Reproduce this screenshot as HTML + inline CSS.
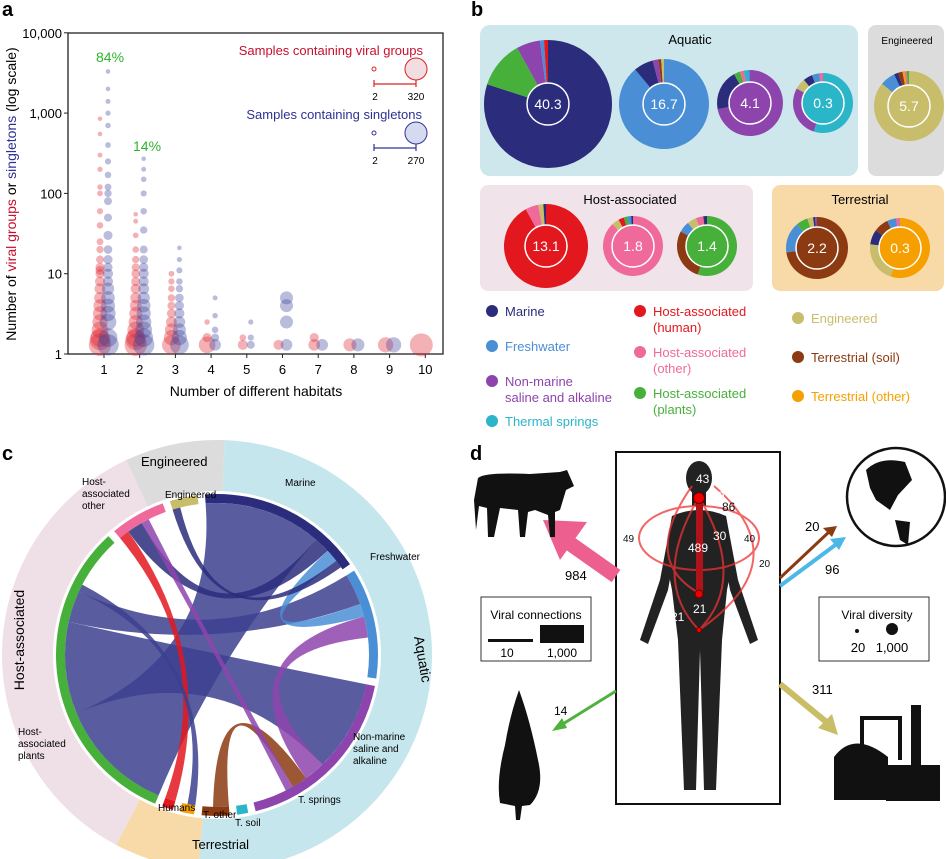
<!DOCTYPE html>
<html><head><meta charset="utf-8"><style>
html,body{margin:0;padding:0;background:#fff;}
svg{display:block;font-family:"Liberation Sans",Arial,sans-serif;}
</style></head><body>
<svg id="fig" width="946" height="859" viewBox="0 0 946 859">
<!-- Panel a -->
<g id="panelA">
<text x="2" y="16" font-size="20" font-weight="bold">a</text>
<rect x="68" y="33" width="375" height="321" fill="none" stroke="#222" stroke-width="1.3"/>
<g id="aTicks"></g>
<g id="aPoints"></g>
<text x="256" y="396" font-size="14" text-anchor="middle">Number of different habitats</text>
<text transform="translate(16,194) rotate(-90)" font-size="14" text-anchor="middle">Number of <tspan fill="#c8102e">viral groups</tspan> or <tspan fill="#2e3192">singletons</tspan> (log scale)</text>
<text x="96" y="62" font-size="14" fill="#2db52d">84%</text>
<text x="133" y="151" font-size="14" fill="#2db52d">14%</text>
<g>
<text x="423" y="55" font-size="13" fill="#c8102e" text-anchor="end">Samples containing viral groups</text>
<circle cx="374" cy="69" r="2" fill="none" stroke="#d22" stroke-width="1"/>
<circle cx="416" cy="69" r="11" fill="#f2dde3" stroke="#d22" stroke-width="1"/>
<path d="M374 80v7M374 84H416M416 80v7" stroke="#d22" stroke-width="1.2" fill="none"/>
<text x="375" y="100" font-size="10" text-anchor="middle">2</text><text x="416" y="100" font-size="10" text-anchor="middle">320</text>
<text x="422" y="119" font-size="13" fill="#2e3192" text-anchor="end">Samples containing singletons</text>
<circle cx="374" cy="133" r="2" fill="none" stroke="#339" stroke-width="1"/>
<circle cx="416" cy="133" r="11" fill="#d6daee" stroke="#339" stroke-width="1"/>
<path d="M374 144v7M374 148H416M416 144v7" stroke="#339" stroke-width="1.2" fill="none"/>
<text x="375" y="164" font-size="10" text-anchor="middle">2</text><text x="416" y="164" font-size="10" text-anchor="middle">270</text>
</g>
</g>

<!-- Panel b -->
<g id="panelB">
<text x="471" y="16" font-size="20" font-weight="bold">b</text>
<rect x="480" y="25" width="378" height="151" rx="10" fill="#cde7ec"/>
<rect x="868" y="25" width="76" height="151" rx="8" fill="#dcdcdc"/>
<rect x="480" y="185" width="273" height="106" rx="8" fill="#f0e4ea"/>
<rect x="772" y="185" width="172" height="106" rx="8" fill="#f8d9a8"/>
<text x="690" y="44" font-size="13" text-anchor="middle">Aquatic</text>
<text x="907" y="44" font-size="10" text-anchor="middle">Engineered</text>
<text x="630" y="204" font-size="13" text-anchor="middle">Host-associated</text>
<text x="860" y="204" font-size="13" text-anchor="middle">Terrestrial</text>
<g id="donuts"></g>
<g font-size="13">
<circle cx="492" cy="311" r="6" fill="#2b2c7c"/><text x="505" y="316" fill="#2b2c7c">Marine</text>
<circle cx="492" cy="346" r="6" fill="#4a8fd6"/><text x="505" y="351" fill="#4a8fd6">Freshwater</text>
<circle cx="492" cy="381" r="6" fill="#8e44ad"/><text x="505" y="386" fill="#8e44ad">Non-marine</text><text x="505" y="402" fill="#8e44ad">saline and alkaline</text>
<circle cx="492" cy="421" r="6" fill="#2bb5c8"/><text x="505" y="426" fill="#2bb5c8">Thermal springs</text>
<circle cx="640" cy="311" r="6" fill="#e3171e"/><text x="653" y="316" fill="#e3171e">Host-associated</text><text x="653" y="332" fill="#e3171e">(human)</text>
<circle cx="640" cy="352" r="6" fill="#ef6a9a"/><text x="653" y="357" fill="#ef6a9a">Host-associated</text><text x="653" y="373" fill="#ef6a9a">(other)</text>
<circle cx="640" cy="393" r="6" fill="#46b03a"/><text x="653" y="398" fill="#46b03a">Host-associated</text><text x="653" y="414" fill="#46b03a">(plants)</text>
<circle cx="798" cy="318" r="6" fill="#c8bd6a"/><text x="811" y="323" fill="#c8bd6a">Engineered</text>
<circle cx="798" cy="357" r="6" fill="#8b3a12"/><text x="811" y="362" fill="#8b3a12">Terrestrial (soil)</text>
<circle cx="798" cy="396" r="6" fill="#f5a000"/><text x="811" y="401" fill="#f5a000">Terrestrial (other)</text>
</g>
</g>

<!-- Panel c -->
<g id="panelC">
<text x="2" y="460" font-size="20" font-weight="bold">c</text>
<g id="chord"></g>
<g font-size="10">
<text x="141" y="466" font-size="13">Engineered</text>
<text x="165" y="498">Engineered</text>
<text x="285" y="486">Marine</text>
<text x="370" y="560">Freshwater</text>
<text x="82" y="485">Host-</text><text x="82" y="497">associated</text><text x="82" y="509">other</text>
<text transform="translate(24,640) rotate(-90)" font-size="14" text-anchor="middle">Host-associated</text>
<text transform="translate(418,660) rotate(80)" font-size="14" text-anchor="middle">Aquatic</text>
<text x="18" y="735">Host-</text><text x="18" y="747">associated</text><text x="18" y="759">plants</text>
<text x="353" y="740">Non-marine</text><text x="353" y="752">saline and</text><text x="353" y="764">alkaline</text>
<text x="298" y="803">T. springs</text>
<text x="158" y="811">Humans</text>
<text x="203" y="818">T. other</text>
<text x="235" y="826">T. soil</text>
<text x="192" y="849" font-size="13">Terrestrial</text>
</g>
</g>

<!-- Panel d -->
<g id="panelD">
<text x="470" y="460" font-size="20" font-weight="bold">d</text>
<rect x="616" y="452" width="164" height="352" fill="#fff" stroke="#111" stroke-width="2"/>
<g fill="#222">
<ellipse cx="699" cy="478" rx="13" ry="17"/>
<rect x="692" y="492" width="14" height="14"/>
<path d="M672 516 Q699 504 726 516 L733 560 L727 590 L722 640 L716 790 L704 790 L700 650 L696 790 L684 790 L678 640 L672 590 L666 560 Z"/>
<path d="M672 516 L660 580 L640 640 L648 644 L668 590 L676 545 Z"/>
<path d="M726 516 L738 580 L758 640 L750 644 L730 590 L722 545 Z"/>
</g>
<g fill="none" stroke="#e33" stroke-width="2" opacity="0.75">
<ellipse cx="699" cy="538" rx="60" ry="32"/>
<path d="M699 497 Q650 580 699 630 Q748 580 699 497"/>
<path d="M714 486 Q800 560 699 630"/>
<path d="M692 486 Q640 560 699 593"/>
</g>
<rect x="696" y="498" width="7" height="95" fill="#b0121a"/>
<circle cx="699" cy="498" r="5.5" fill="#e00" stroke="#600"/><circle cx="699" cy="594" r="4" fill="#e00" stroke="#600"/><circle cx="699" cy="630" r="2.5" fill="#e00" stroke="#600"/>
<g fill="#fff" font-size="12">
<text x="696" y="483">43</text><text x="711" y="500">40</text><text x="722" y="511" fill="#111">86</text>
<text x="713" y="540">30</text><text x="688" y="552">489</text><text x="693" y="613">21</text><text x="671" y="621">21</text>
<text x="623" y="542" fill="#111" font-size="10">49</text><text x="744" y="542" fill="#111" font-size="10">40</text><text x="759" y="567" fill="#111" font-size="10">20</text>
</g>
<g>
<line x1="616" y1="576" x2="565" y2="540" stroke="#ec5f8e" stroke-width="15"/>
<polygon points="543,520 587,522 560,560" fill="#ec5f8e"/>
</g>
<text x="565" y="580" font-size="13">984</text>
<line x1="616" y1="691" x2="558" y2="727" stroke="#4db33d" stroke-width="3"/><polygon points="552,731 562,718 567,728" fill="#4db33d"/>
<text x="554" y="715" font-size="12">14</text>
<line x1="780" y1="578" x2="830" y2="531" stroke="#8b3a12" stroke-width="3"/><polygon points="837,526 823,528 832,537" fill="#8b3a12"/>
<line x1="780" y1="586" x2="838" y2="543" stroke="#4cb8e8" stroke-width="4"/><polygon points="846,537 830,539 839,550" fill="#4cb8e8"/>
<text x="805" y="531" font-size="13">20</text><text x="825" y="574" font-size="13">96</text>
<line x1="780" y1="684" x2="830" y2="725" stroke="#c9bd66" stroke-width="6"/><polygon points="838,735 818,728 832,714" fill="#c9bd66"/>
<text x="812" y="694" font-size="13">311</text>
<g>
<rect x="481" y="597" width="110" height="64" fill="#fff" stroke="#333"/>
<text x="536" y="619" font-size="12" text-anchor="middle">Viral connections</text>
<rect x="488" y="639" width="45" height="3" fill="#111"/><rect x="540" y="625" width="44" height="18" fill="#111"/>
<text x="507" y="657" font-size="12" text-anchor="middle">10</text><text x="562" y="657" font-size="12" text-anchor="middle">1,000</text>
</g>
<g>
<rect x="819" y="597" width="110" height="64" fill="#fff" stroke="#333"/>
<text x="877" y="619" font-size="12" text-anchor="middle">Viral diversity</text>
<circle cx="857" cy="631" r="2" fill="#111"/><circle cx="892" cy="629" r="6" fill="#111"/>
<text x="858" y="652" font-size="13" text-anchor="middle">20</text><text x="892" y="652" font-size="13" text-anchor="middle">1,000</text>
</g>
<g fill="#111">
<path d="M478 478 Q485 472 530 474 L560 472 L567 470 L574 486 L566 490 L560 510 L555 512 L555 537 L550 537 L548 515 L535 510 L528 512 L525 537 L520 537 L518 510 L500 508 L494 537 L488 537 L487 508 L479 506 L476 530 L474 500 Z"/>
</g>
<g>
<circle cx="896" cy="497" r="49" fill="#fff" stroke="#111" stroke-width="2.5"/>
<path d="M866 470 Q880 456 905 462 L912 480 L898 495 L890 510 L876 500 L870 488 Z" fill="#111"/>
<path d="M895 520 L910 522 L908 545 L900 540 Z" fill="#111"/>
</g>
<g fill="#111">
<path d="M519 690 Q530 720 538 760 Q545 790 530 805 L522 806 L520 820 L516 820 L515 806 L500 803 Q496 780 505 745 Q510 715 519 690 Z"/>
</g>
<g fill="#111">
<path d="M834 800 L834 757 Q854 730 888 757 L888 800 Z"/>
<rect x="886" y="765" width="54" height="36"/>
<rect x="911" y="705" width="10" height="60"/>
<path d="M862 748 V718 H900 V760" fill="none" stroke="#111" stroke-width="4"/>
</g>
</g>

<script>
// ---------- Panel A data ----------
const habitats = [1,2,3,4,5,6,7,8,9,10];
const yTickValues = [1,10,100,1000,10000];
const yTickLabels = ["1","10","100","1,000","10,000"];
// viral groups (red): [habitat, value, samples]
const redPoints = [
 [1,1.3,300],[1,1.5,250],[1,1.6,200],[1,2,150],[1,2.5,120],[1,3.2,100],[1,4,80],[1,5,60],[1,6.5,50],[1,8,40],[1,10,30],[1,11,30],[1,12,30],[1,15,20],[1,20,15],[1,25,12],[1,40,10],[1,60,8],[1,100,6],[1,120,5],[1,200,4],[1,300,3],[1,550,2],[1,850,2],
 [2,1.3,300],[2,1.5,250],[2,1.6,200],[2,2,150],[2,2.5,100],[2,3.2,80],[2,4,60],[2,5,50],[2,6.5,40],[2,8,30],[2,10,25],[2,12,20],[2,15,15],[2,20,10],[2,30,6],[2,45,3],[2,55,2],
 [3,1.3,200],[3,1.6,120],[3,2,80],[3,2.5,50],[3,3.2,30],[3,4,20],[3,5,15],[3,6.5,10],[3,8,8],[3,10,6],
 [4,1.3,150],[4,1.6,30],[4,2.5,5],[5,1.3,40],[5,1.6,10],[6,1.3,40],[7,1.3,60],[7,1.6,30],[8,1.3,80],[9,1.3,120],[10,1.3,320]
];
// singletons (blue)
const bluePoints = [
 [1,1.3,270],[1,1.6,200],[1,2.5,150],[1,3.2,120],[1,4,100],[1,5,90],[1,6.5,70],[1,8,40],[1,10,40],[1,12,30],[1,15,30],[1,20,25],[1,30,30],[1,50,20],[1,80,20],[1,100,15],[1,120,12],[1,170,10],[1,250,8],[1,400,6],[1,700,5],[1,1000,4],[1,1400,3],[1,2000,2],[1,3300,2],
 [2,1.3,270],[2,1.6,200],[2,2,150],[2,2.5,120],[2,3.2,100],[2,4,90],[2,5,70],[2,6.5,50],[2,8,40],[2,10,40],[2,12,30],[2,15,25],[2,20,20],[2,35,15],[2,60,10],[2,100,8],[2,150,5],[2,200,3],[2,270,2],
 [3,1.3,200],[3,1.6,120],[3,2,80],[3,2.5,60],[3,3.2,40],[3,4,30],[3,5,25],[3,6.5,15],[3,8,10],[3,11,8],[3,15,4],[3,21,2],
 [4,1.3,60],[4,1.6,20],[4,2,10],[4,3,5],[4,5,3],[5,1.3,20],[5,1.6,8],[5,2.5,4],[6,1.3,60],[6,2.5,80],[6,4,80],[6,5,80],[7,1.3,60],[8,1.3,80],[9,1.3,120]
];
const NS='http://www.w3.org/2000/svg';
function xScale(h){return 104 + (h-1)*35.7;}
function yScale(v){return 354 - Math.log10(v)*80.3;}
function rScale(n){return 1.5 + Math.sqrt(n/320)*10;}
const tk=document.getElementById('aTicks');
yTickValues.forEach((v,i)=>{
 const y=yScale(v);
 const l=document.createElementNS(NS,'line');
 l.setAttribute('x1',64);l.setAttribute('x2',68);l.setAttribute('y1',y);l.setAttribute('y2',y);l.setAttribute('stroke','#222');
 
 
 tk.appendChild(l);
 const t=document.createElementNS(NS,'text');
 t.setAttribute('x',62);t.setAttribute('y',y+5);t.setAttribute('text-anchor','end');t.setAttribute('font-size','13');
 t.textContent=yTickLabels[i];
 
 
 tk.appendChild(t);
});
habitats.forEach(h=>{
 const x=xScale(h);
 const l=document.createElementNS(NS,'line');
 l.setAttribute('x1',x);l.setAttribute('x2',x);l.setAttribute('y1',354);l.setAttribute('y2',358);l.setAttribute('stroke','#222');
 
 
 tk.appendChild(l);
 const t=document.createElementNS(NS,'text');
 t.setAttribute('x',x);t.setAttribute('y',374);t.setAttribute('text-anchor','middle');t.setAttribute('font-size','13');
 t.textContent=h;
 
 
 tk.appendChild(t);
});
const pg=document.getElementById('aPoints');
function drawPts(arr,col,dx,name){
 arr.forEach(p=>{
  const c=document.createElementNS(NS,'circle');
  c.setAttribute('cx',xScale(p[0])+dx);c.setAttribute('cy',yScale(p[1]));c.setAttribute('r',rScale(p[2]));
  c.setAttribute('fill',col);c.setAttribute('fill-opacity',0.35);
  
  
  pg.appendChild(c);
 });
}
drawPts(redPoints,'#e0202a',-4,'viral-group-point');
drawPts(bluePoints,'#3a3f9c',4,'singleton-point');

// ---------- Panel B donuts ----------
// habitat index: 0 marine,1 fresh,2 non-marine,3 thermal,4 human,5 host other,6 plants,7 engineered,8 soil,9 terr other
const donutColors=['#2b2c7c','#4a8fd6','#8e44ad','#2bb5c8','#e3171e','#ef6a9a','#46b03a','#c8bd6a','#8b3a12','#f5a000'];
const donutLabels=['40.3','16.7','4.1','0.3','5.7','13.1','1.8','1.4','2.2','0.3'];
const donutHabitats=[
 [0,6,2,1,4],
 [1,0,2,8,7],
 [2,0,6,5,3,1],
 [3,2,7,0,1,5],
 [7,1,0,8,9,5,6],
 [4,5,7,0],
 [5,7,4,6,1,0],
 [6,8,1,7,5,0],
 [8,1,6,7,0,2],
 [9,7,0,8,1,5]
];
const donutValues=[
 [80,12,6,1,1],
 [88,7,2,1,1],
 [72,20,3,2,2,1],
 [55,28,6,5,4,2],
 [86,7,2,2,1,1,1],
 [92,5,2,1],
 [88,4,3,2,2,1],
 [55,28,6,5,4,2],
 [72,16,6,3,1,1],
 [55,22,8,8,5,2]
];
const donutX=[548,664,750,823,909,546,633,707,817,900];
const donutY=[104,104,103,103,106,246,246,246,248,248];
const donutR=[64,45,33,30,35,42,30,30,31,30];
const dg=document.getElementById('donuts');
donutValues.forEach((sh,k)=>{
 const tot=sh.reduce((a,b)=>a+b,0);
 let a0=-Math.PI/2;
 const X=donutX[k],Y=donutY[k],R=donutR[k];
 sh.forEach((v,i)=>{
  const a1=a0+v/tot*2*Math.PI;
  const p=document.createElementNS(NS,'path');
  const big=(a1-a0)>Math.PI?1:0;
  p.setAttribute('d',`M${X} ${Y} L${X+R*Math.cos(a0)} ${Y+R*Math.sin(a0)} A${R} ${R} 0 ${big} 1 ${X+R*Math.cos(a1)} ${Y+R*Math.sin(a1)} Z`);
  p.setAttribute('fill',donutColors[donutHabitats[k][i]]);
  
  
  dg.appendChild(p);
  a0=a1;
 });
 const ic=document.createElementNS(NS,'circle');
 ic.setAttribute('cx',X);ic.setAttribute('cy',Y);ic.setAttribute('r',21);
 ic.setAttribute('fill',donutColors[donutHabitats[k][0]]);ic.setAttribute('stroke','#fff');ic.setAttribute('stroke-width',1.5);
 
 
 dg.appendChild(ic);
 const t=document.createElementNS(NS,'text');
 t.setAttribute('x',X);t.setAttribute('y',Y+5);t.setAttribute('text-anchor','middle');t.setAttribute('font-size','14');t.setAttribute('fill','#fff');
 t.textContent=donutLabels[k];
 
 
 dg.appendChild(t);
});

// ---------- Panel C chord ----------
const chordGroups=['Engineered','Marine','Freshwater','Non-marine saline','T. springs','T. soil','T. other','Humans','H. plants','H. other'];
const chordSizes=[10,60,40,65,4,10,5,4,115,20];
const chordColors=['#c8bd6a','#2b2c7c','#4a8fd6','#8e44ad','#2bb5c8','#8b3a12','#f5a000','#e3171e','#46b03a','#ef6a9a'];
const chordLinks=[[8,1,45],[8,3,35],[8,2,12],[9,7,4],[9,1,6],[1,2,5],[2,3,8],[3,5,6],[0,1,3],[9,3,3],[8,6,3]];
const cg=document.getElementById('chord');
const CX=217,CY=655,R0=152,RO=215;
function arcPath(r1,r2,a0,a1){
 const big=(a1-a0)>Math.PI?1:0;
 const p=(r,a)=>`${CX+r*Math.cos(a)} ${CY+r*Math.sin(a)}`;
 return `M${p(r2,a0)} A${r2} ${r2} 0 ${big} 1 ${p(r2,a1)} L${p(r1,a1)} A${r1} ${r1} 0 ${big} 0 ${p(r1,a0)} Z`;
}
const D=Math.PI/180;
const outer=[['#dcdcdc',-115,-88],['#c5e6ec',-88,95],['#f8d9a8',95,118],['#efdfe6',118,245]];
outer.forEach(o=>{
 const p=document.createElementNS(NS,'path');
 p.setAttribute('d',arcPath(R0+12,RO,o[1]*D,o[2]*D));p.setAttribute('fill',o[0]);
 
 
 cg.appendChild(p);
});
const gapDeg=2.7;
let ang=-107*D;const starts=[];
chordSizes.forEach((s,i)=>{
 const a1=ang+s*D;starts.push([ang,a1]);
 const p=document.createElementNS(NS,'path');
 p.setAttribute('d',arcPath(R0,R0+9,ang,a1));p.setAttribute('fill',chordColors[i]);
 
 
 cg.appendChild(p);
 ang=a1+gapDeg*D;
});
const off=starts.map(s=>s[0]);
chordLinks.forEach(l=>{
 const [i,j,w]=l;
 const a0=off[i],a1=a0+w*D;off[i]=a1;
 const b0=off[j],b1=b0+w*D;off[j]=b1;
 const P=(a)=>`${CX+R0*Math.cos(a)} ${CY+R0*Math.sin(a)}`;
 const p=document.createElementNS(NS,'path');
 p.setAttribute('d',`M${P(a0)} A${R0} ${R0} 0 0 1 ${P(a1)} Q${CX} ${CY} ${P(b0)} A${R0} ${R0} 0 0 1 ${P(b1)} Q${CX} ${CY} ${P(a0)} Z`);
 const col=(i===9&&j===7)?'#e3171e':(i===8?'#3d3f8f':chordColors[j]);
 p.setAttribute('fill',col);p.setAttribute('fill-opacity',0.85);
 
 
 cg.appendChild(p);
});
</script>
</svg>
</body></html>
